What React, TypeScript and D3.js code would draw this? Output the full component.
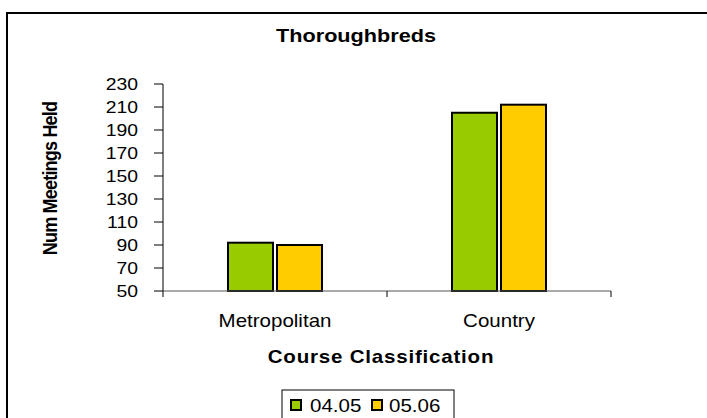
import React from "react";
import * as d3 from "d3";

const categories = ["Metropolitan", "Country"];
const seriesNames = ["04.05", "05.06"];
const values0405 = [92, 205];
const values0506 = [90, 212];
const yTicks = [50, 70, 90, 110, 130, 150, 170, 190, 210, 230];
const colors = ["#99CC00", "#FFCC00"];

const font = "'Liberation Sans', Arial, sans-serif";
const SX = 1.14;

function T(props: {
  x: number;
  y: number;
  anchor?: string;
  size: number;
  bold?: boolean;
  ls?: number;
  rotate?: number;
  children: React.ReactNode;
}) {
  const { x, y, anchor = "start", size, bold, ls = 0, rotate = 0, children } = props;
  return (
    <g transform={`translate(${x},${y}) scale(${SX},1) rotate(${rotate})`}>
      <text
        x={0}
        y={0}
        textAnchor={anchor}
        fontFamily={font}
        fontSize={size}
        fontWeight={bold ? "bold" : "normal"}
        letterSpacing={ls}
        fill="#000"
      >
        {children}
      </text>
    </g>
  );
}

export default function App() {
  const W = 707, H = 418;
  const left = 163, right = 611, top = 84, bottom = 291;
  const y = d3.scaleLinear().domain([50, 230]).range([bottom, top]);
  const x0 = d3.scaleBand<string>().domain(categories).range([left, right]).padding(0);
  const x1 = d3.scaleBand<string>().domain(seriesNames).range([-47, 47]).paddingInner(4 / 49).paddingOuter(0);
  const series = [values0405, values0506];
  const xTickPos = [left, left + x0.step(), right];
  const legendSquareX = [291, 372];
  const legendTextX = [310, 389];

  return (
    <svg width={W} height={H} style={{ position: "absolute", left: 0, top: 0, background: "#fff" }}>
      <rect x={7} y={13} width={760} height={460} fill="#fff" stroke="#000" strokeWidth={2} />
      <T x={356} y={42} anchor="middle" size={19} bold>
        Thoroughbreds
      </T>
      {/* y axis */}
      <line x1={left} x2={left} y1={top} y2={bottom} stroke="#000" strokeWidth={1} />
      {yTicks.map((t) => (
        <g key={t}>
          <line x1={left - 9} x2={left} y1={y(t)} y2={y(t)} stroke="#000" strokeWidth={1} />
          <T x={138} y={y(t) + 6} anchor="end" size={17}>
            {t}
          </T>
        </g>
      ))}
      <T x={57} y={178.5} anchor="middle" size={18} bold ls={-0.8} rotate={-90}>
        Num Meetings Held
      </T>
      {/* bars */}
      {categories.map((c, i) => {
        const cx = (x0(c) as number) + x0.bandwidth() / 2;
        return seriesNames.map((s, j) => (
          <rect
            key={c + s}
            x={cx + (x1(s) as number)}
            y={y(series[j][i])}
            width={x1.bandwidth()}
            height={bottom - y(series[j][i])}
            fill={colors[j]}
            stroke="#000"
            strokeWidth={2}
          />
        ));
      })}
      {/* x axis */}
      <line x1={left} x2={right} y1={bottom} y2={bottom} stroke="#555" strokeWidth={1} />
      {xTickPos.map((p, i) => (
        <line key={i} x1={p} x2={p} y1={bottom} y2={bottom + 6} stroke="#000" strokeWidth={1} />
      ))}
      {categories.map((c) => (
        <T key={c} x={(x0(c) as number) + x0.bandwidth() / 2} y={327} anchor="middle" size={18}>
          {c}
        </T>
      ))}
      <T x={381} y={363} anchor="middle" size={18} bold ls={0.7}>
        Course Classification
      </T>
      {/* legend */}
      <rect x={282} y={390} width={172} height={40} fill="#fff" stroke="#000" strokeWidth={1} />
      {seriesNames.map((s, j) => (
        <g key={s}>
          <rect x={legendSquareX[j]} y={400} width={10} height={10} fill={colors[j]} stroke="#000" strokeWidth={2} />
          <T x={legendTextX[j]} y={412} size={18}>
            {s}
          </T>
        </g>
      ))}
    </svg>
  );
}
